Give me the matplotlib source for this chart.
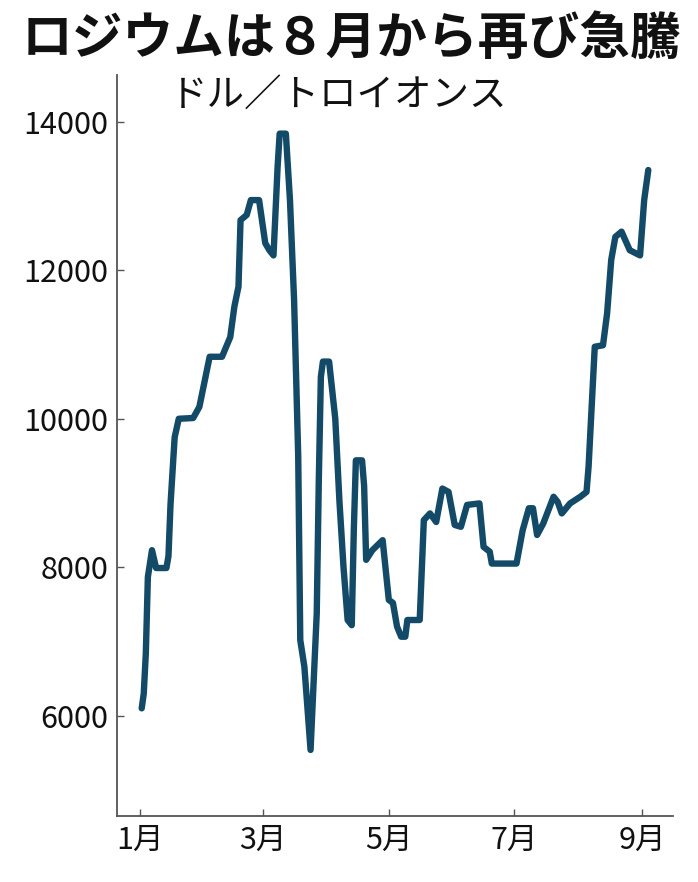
import matplotlib
matplotlib.use('Agg')
import matplotlib.pyplot as plt
import pandas as pd

plt.rcParams['font.family'] = ['Noto Sans CJK JP', 'DejaVu Sans']  # 日本語表示用
plt.rcParams['axes.unicode_minus'] = False

# ロジウム価格 (2020年, ドル/トロイオンス)
dates = ['01-02', '01-03', '01-04', '01-05', '01-07', '01-09', '01-14', '01-15',
         '01-16', '01-18', '01-20', '01-27', '01-30', '02-04', '02-10', '02-14',
         '02-16', '02-18', '02-19', '02-22', '02-24', '02-28', '03-02', '03-04',
         '03-06', '03-08', '03-09', '03-12', '03-14', '03-16', '03-18', '03-19',
         '03-21', '03-24', '03-27', '03-28', '03-29', '03-30', '04-02', '04-05',
         '04-07', '04-09', '04-11', '04-13', '04-14', '04-15', '04-18', '04-19',
         '04-20', '04-23', '04-28', '05-01', '05-03', '05-05', '05-07', '05-09',
         '05-10', '05-16', '05-18', '05-21', '05-24', '05-27', '05-30', '06-02',
         '06-05', '06-08', '06-14', '06-16', '06-19', '06-20', '07-02', '07-05',
         '07-08', '07-10', '07-12', '07-15', '07-20', '07-22', '07-24', '07-28',
         '08-02', '08-05', '08-06', '08-09', '08-13', '08-15', '08-17', '08-19',
         '08-22', '08-26', '08-31', '09-02', '09-04']
prices = [6100, 6300, 6840, 7870, 8230, 7990, 7990, 8150,
          8850, 9750, 10000, 10010, 10160, 10835, 10835, 11100,
          11510, 11780, 12675, 12745, 12945, 12945, 12365, 12270,
          12200, 13395, 13840, 13840, 12945, 11600, 9500, 7020,
          6660, 5540, 7380, 9175, 10565, 10770, 10770, 10000,
          8900, 8000, 7290, 7220, 8500, 9440, 9440, 9100,
          8100, 8230, 8365, 7560, 7520, 7200, 7065, 7065,
          7290, 7290, 8635, 8725, 8610, 9060, 9015, 8570,
          8545, 8840, 8860, 8275, 8210, 8050, 8050, 8500,
          8795, 8795, 8435, 8590, 8950, 8880, 8725, 8860,
          8950, 9015, 9355, 10970, 10990, 11420, 12140, 12450,
          12520, 12270, 12200, 12945, 13350]

tick_months = ['01-01', '03-01', '05-01', '07-01', '09-01']
tick_labels = ['1月', '3月', '5月', '7月', '9月']
y_ticks = [6000, 8000, 10000, 12000, 14000]

x = pd.to_datetime(['2020-' + d for d in dates])
xt = pd.to_datetime(['2020-' + d for d in tick_months])

fig = plt.figure(figsize=(6.98, 8.82), dpi=100)
ax = fig.add_axes([0.1676, 0.0748, 0.7966, 0.8402])

ax.plot(x, prices, color='#134a68', lw=4.6,
        solid_joinstyle='round', solid_capstyle='round')

ax.set_xlim(pd.Timestamp('2019-12-21'), pd.Timestamp('2020-09-16'))
ax.set_ylim(4650, 14630)
ax.set_xticks(xt)
ax.set_xticklabels(tick_labels)
ax.set_yticks(y_ticks)
ax.set_yticklabels([str(v) for v in y_ticks])

for s in ['top', 'right']:
    ax.spines[s].set_visible(False)
for s in ['left', 'bottom']:
    ax.spines[s].set_color('#555555')
    ax.spines[s].set_linewidth(1.3)
ax.tick_params(direction='in', length=5, width=1, color='#555555',
               labelsize=22, labelcolor='#111111')
ax.tick_params(axis='y', pad=6)
ax.tick_params(axis='x', pad=6)

fig.text(0.503, 0.955, 'ロジウムは８月から再び急騰', ha='center', va='center',
         fontsize=36.5, fontweight='bold', color='#111111')
fig.text(0.2436, 0.892, 'ドル／トロイオンス', ha='left', va='center',
         fontsize=27, color='#111111')

fig.savefig('out.png', dpi=100)
